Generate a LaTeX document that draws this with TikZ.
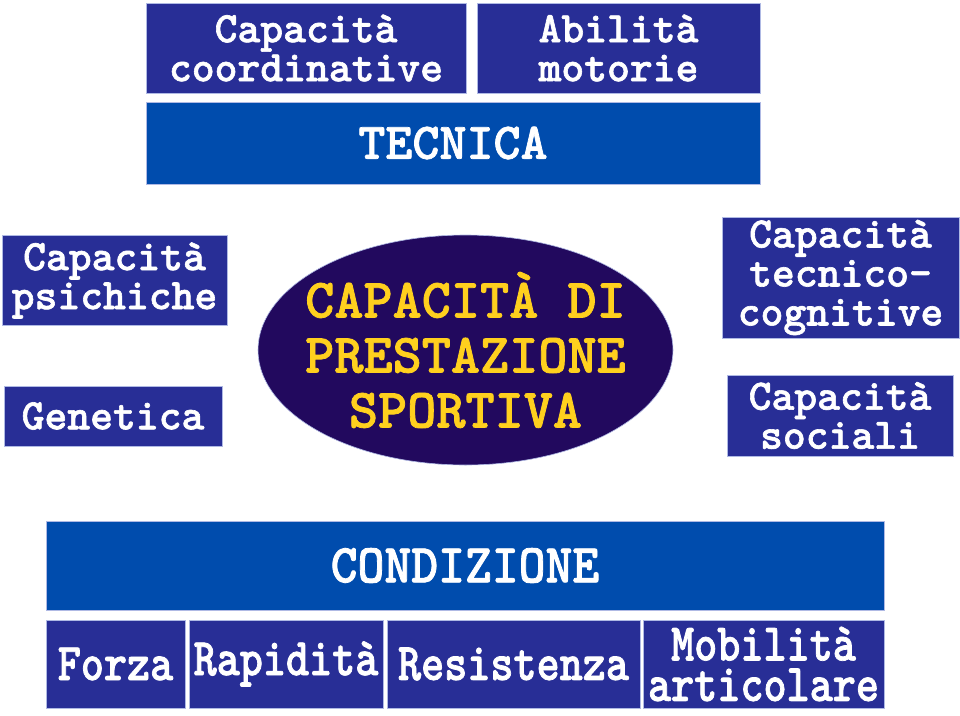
\documentclass[tikz,border=0pt]{standalone}
\usepackage{fontspec}
\usetikzlibrary{shapes.geometric}
\newfontfamily\courB{lmmonolt10-bold.otf}[FakeBold=1.4]
\newfontfamily\courC{lmmonolt10-bold.otf}[FakeStretch=0.83,FakeBold=1.4]
\newfontfamily\courD{lmmonolt10-bold.otf}[FakeStretch=0.93,FakeBold=1.4]
\definecolor{boxblue}{RGB}{40,46,150}
\definecolor{bandblue}{RGB}{0,76,173}
\definecolor{ellblue}{RGB}{34,9,94}
\definecolor{ylw}{RGB}{255,208,30}
\definecolor{edge}{RGB}{175,185,228}
\tikzset{
  smallbox/.style={draw=edge, line width=0.8pt, fill=boxblue, text=white, inner sep=0pt, align=center,
    font=\courB\fontsize{43.5}{39}\selectfont},
  bandbox/.style={draw=edge, line width=0.8pt, fill=bandblue, text=white, inner sep=0pt, align=center},
  lowbox/.style={smallbox, minimum height=88pt, font=\courC\fontsize{53}{40.5}\selectfont},
}
\begin{document}
\begin{tikzpicture}[x=1pt,y=-1pt]
\useasboundingbox (0,0) rectangle (960,715);
% top
\node[smallbox, minimum width=320pt, minimum height=90pt] (coord) at (306,48) {Capacità\\coordinative};
\node[smallbox, minimum width=283pt, minimum height=90pt] (abil) at (618.5,48) {Abilità\\motorie};
\node[bandbox, minimum width=614pt, minimum height=82pt, font=\courB\fontsize{51.5}{48}\selectfont] (tecn) at (453,143) {TECNICA};
% left
\node[smallbox, minimum width=225pt, minimum height=90pt] (psich) at (114.5,280.5) {Capacità\\psichiche};
\node[smallbox, minimum width=218pt, minimum height=60pt] (gen) at (113,416) {Genetica};
% right
\node[smallbox, minimum width=237pt, minimum height=121pt] (tecog) at (840.5,277.5) {Capacità\\tecnico-\\cognitive};
\node[smallbox, minimum width=226pt, minimum height=81pt] (soc) at (840,415.5) {Capacità\\sociali};
% centre
\node[ellipse, draw=edge, line width=0.6pt, fill=ellblue, inner sep=0pt, minimum width=415pt, minimum height=230pt] (perf) at (465.5,350) {};
\node[text=ylw, inner sep=0pt, align=center, font=\courB\fontsize{55.5}{55}\selectfont] (perftext) at (perf.center) {CAPACITÀ DI\\PRESTAZIONE\\SPORTIVA};
% bottom
\node[bandbox, minimum width=838pt, minimum height=89pt, font=\courD\fontsize{55}{50}\selectfont] (cond) at (465,565.5) {CONDIZIONE};
\node[lowbox, minimum width=139pt] (forza) at (115.5,664) {Forza};
\node[lowbox, minimum width=194pt] (rapid) at (286,664) {Rapidità};
\node[lowbox, minimum width=253pt] (resist) at (513.5,664) {Resistenza};
\node[lowbox, minimum width=241pt] (mob) at (763.5,664) {Mobilità\\articolare};
\end{tikzpicture}
\end{document}
